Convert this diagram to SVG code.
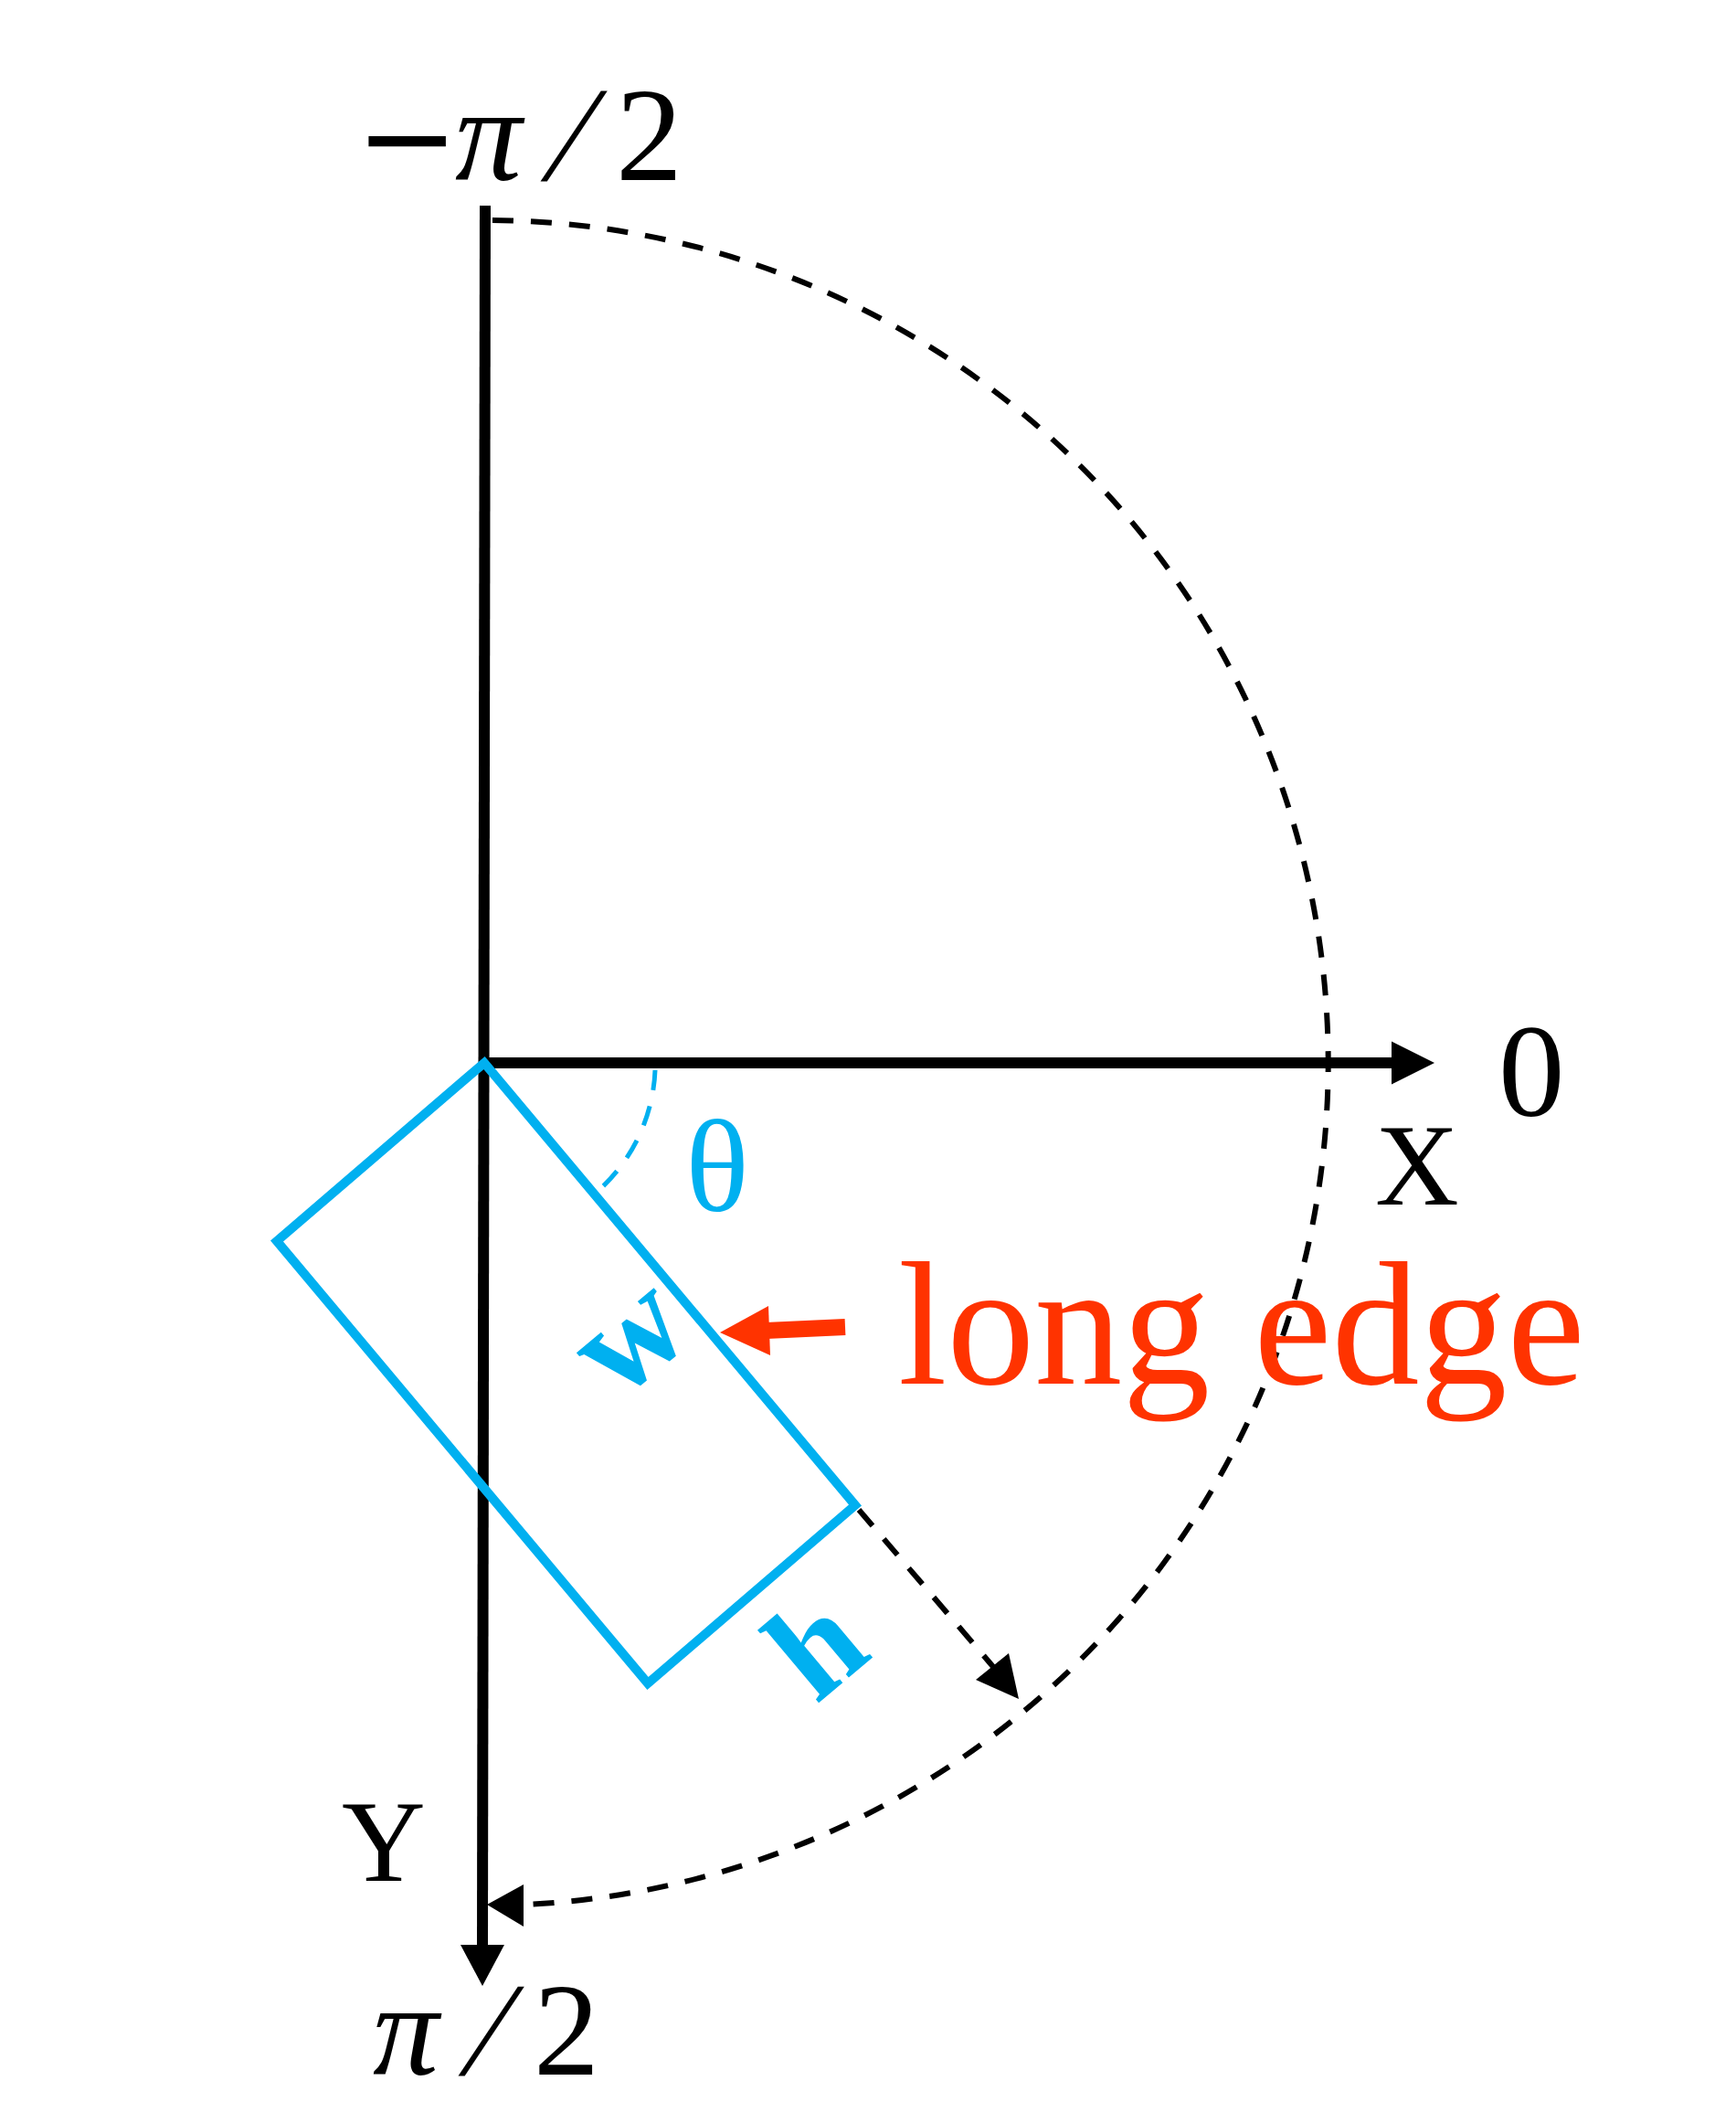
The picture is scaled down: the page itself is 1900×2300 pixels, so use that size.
<svg xmlns="http://www.w3.org/2000/svg" width="1900" height="2300" viewBox="0 0 1900 2300">
<style>
.axis{stroke:#000;stroke-width:12;fill:none}
.dash{stroke:#000;stroke-width:6;fill:none;stroke-dasharray:23 19}
.head{fill:#000;stroke:none}
.blue{stroke:#00B0F0;stroke-width:10;fill:none;stroke-linejoin:miter}
.bdash{stroke:#00B0F0;stroke-width:5;fill:none;stroke-dasharray:22 18}
.serif{font-family:"Liberation Serif","Times New Roman",serif}
.lbl{font-family:"Liberation Serif","Times New Roman",serif;fill:#000}
</style>
<rect width="1900" height="2300" fill="#fff"/>
<g id="connectors">
  <line class="axis" x1="531" y1="225" x2="528" y2="2130"/>
  <polygon class="head" points="528,2173 504,2128 552,2128"/>
  <line class="axis" x1="524" y1="1163" x2="1525" y2="1163"/>
  <polygon class="head" points="1570,1163 1523,1139.5 1523,1186.5"/>
  <path class="dash" d="M 539 241 A 922 922 0 0 1 574 2084"/>
  <polygon class="head" points="533,2084 573,2062 573,2108"/>
  <line class="dash" x1="940" y1="1652" x2="1088" y2="1825"/>
  <polygon class="head" points="1115,1859 1068,1838 1104,1809"/>
  <line x1="925" y1="1452" x2="838" y2="1456" stroke="#FF3300" stroke-width="18"/>
  <polygon fill="#FF3300" points="788,1458 841,1429 843,1483"/>
</g>
<g id="box">
  <polygon class="blue" points="530,1163 936,1647 709,1842 303,1358"/>
  <path class="bdash" d="M 717 1171 A 187 187 0 0 1 660 1298"/>
</g>
<g id="label-top">
  <text class="lbl" y="197" font-size="146"><tspan x="389" font-family="DejaVu Sans" font-size="135">−</tspan><tspan x="498" font-style="italic">π</tspan></text>
  <text class="lbl" transform="translate(592,197) skewX(-18)" font-size="148">/</text>
  <text class="lbl" x="674" y="197" font-size="146">2</text>
</g>
<g id="label-bottom">
  <text class="lbl" x="408" y="2270" font-size="144" font-style="italic">π</text>
  <text class="lbl" transform="translate(502,2270) skewX(-18)" font-size="146">/</text>
  <text class="lbl" x="584" y="2270" font-size="144">2</text>
</g>
<g id="label-zero">
  <text class="lbl" x="1640" y="1221" font-size="145">0</text>
</g>
<g id="label-x">
  <text class="lbl" x="1505" y="1318" font-size="127">X</text>
</g>
<g id="label-y">
  <text class="lbl" x="374" y="2058" font-size="127">Y</text>
</g>
<g id="label-theta">
  <text class="serif" x="785" y="1325" font-size="145" fill="#00B0F0" text-anchor="middle">θ</text>
</g>
<g id="label-w">
  <text class="serif" transform="translate(719,1499) rotate(-40)" x="0" y="0" font-size="155" font-weight="bold" fill="#00B0F0" text-anchor="middle">w</text>
</g>
<g id="label-h">
  <text class="serif" transform="translate(925,1839) rotate(-40)" x="0" y="0" font-size="150" font-weight="bold" fill="#00B0F0" text-anchor="middle">h</text>
</g>
<g id="label-long-edge">
  <text class="serif" x="983" y="1514" font-size="192" fill="#FF3300">long edge</text>
</g>
</svg>
